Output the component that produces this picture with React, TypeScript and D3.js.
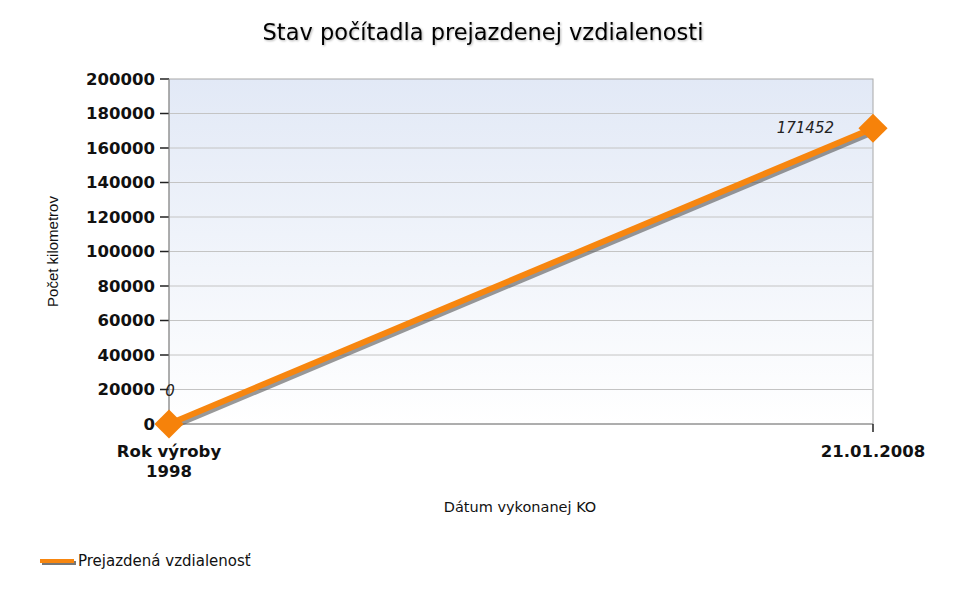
import React from 'react';
import * as d3 from 'd3';

const categories = ['Rok výroby|1998', '21.01.2008'];
const distances = [0, 171452];
const yTicks = [0, 20000, 40000, 60000, 80000, 100000, 120000, 140000, 160000, 180000, 200000];
const seriesName = 'Prejazdená vzdialenosť';

const W = 969;
const H = 596;

const App: React.FC = () => {
  const margin = { top: 79, right: 96, bottom: 172, left: 169 };
  const x = d3.scalePoint<string>().domain(categories).range([margin.left, W - margin.right]);
  const y = d3.scaleLinear().domain([0, 200000]).range([H - margin.bottom, margin.top]);

  const pts = categories.map((c, i) => ({ c, v: distances[i] }));
  const line = d3
    .line<{ c: string; v: number }>()
    .x((d) => x(d.c)!)
    .y((d) => y(d.v));
  const diamond = d3.symbol().type(d3.symbolDiamond2).size(540)();

  const x0 = margin.left;
  const x1 = W - margin.right;
  const y0 = y(0);
  const y1 = y(200000);
  const font = 'Tahoma, "DejaVu Sans", Verdana, sans-serif';

  return (
    <svg width={W} height={H} style={{ position: 'absolute', left: 0, top: 0, background: '#fff' }}>
      <defs>
        <linearGradient id="bg" x1="0" y1="0" x2="0" y2="1">
          <stop offset="0%" stopColor="#e2e9f6" />
          <stop offset="100%" stopColor="#ffffff" />
        </linearGradient>
        <filter id="ts" x="-5%" y="-20%" width="110%" height="140%">
          <feDropShadow dx="1" dy="1" stdDeviation="0.8" floodColor="#000" floodOpacity="0.3" />
        </filter>
      </defs>

      <text x={483} y={40} textAnchor="middle" fontFamily={font} fontSize={22.5} fill="#000" filter="url(#ts)">
        Stav počítadla prejazdenej vzdialenosti
      </text>

      <rect x={x0} y={y1} width={x1 - x0} height={y0 - y1} fill="url(#bg)" stroke="#a8a8a8" />

      {yTicks.map((t) => (
        <g key={t}>
          {t > 0 && t < 200000 && <line x1={x0} x2={x1} y1={y(t)} y2={y(t)} stroke="#c4c4c4" />}
          <line x1={x0 - 9} x2={x0} y1={y(t)} y2={y(t)} stroke="#222" strokeWidth={1.5} />
          <text x={x0 - 14} y={y(t)} dy="0.36em" textAnchor="end" fontFamily={font} fontWeight="bold" fontSize={16.5} fill="#111">
            {t}
          </text>
        </g>
      ))}
      <line x1={x0} x2={x0} y1={y1} y2={y0} stroke="#888" />
      <line x1={x0} x2={x1} y1={y0} y2={y0} stroke="#888" />

      {categories.map((c) => (
        <g key={c}>
          <line x1={x(c)} x2={x(c)} y1={y0} y2={y0 + 8} stroke="#222" strokeWidth={1.5} />
          {c.split('|').map((s, i) => (
            <text key={i} x={x(c)} y={y0 + 33 + i * 20} textAnchor="middle" fontFamily={font} fontWeight="bold" fontSize={16.5} fill="#111">
              {s}
            </text>
          ))}
        </g>
      ))}

      <text x={520} y={512} textAnchor="middle" fontFamily={font} fontSize={14.5} fill="#111">
        Dátum vykonanej KO
      </text>
      <text
        transform={`translate(58,${(y0 + y1) / 2}) rotate(-90)`}
        textAnchor="middle"
        fontFamily='"Liberation Sans", Arial, sans-serif'
        fontSize={15}
        fill="#111"
      >
        Počet kilometrov
      </text>

      {/* shadow */}
      <g transform="translate(2,3)" opacity={0.6}>
        <path d={line(pts)!} fill="none" stroke="#555" strokeWidth={6} />
      </g>
      <path d={line(pts)!} fill="none" stroke="#f7860f" strokeWidth={6} />
      {pts.map((d) => (
        <path key={d.c} d={diamond!} transform={`translate(${x(d.c)},${y(d.v)})`} fill="#f6820a" />
      ))}

      <text x={x(categories[0])! + 1} y={y(distances[0]) - 28} textAnchor="middle" fontFamily={font} fontStyle="italic" fontSize={15} fill="#222">
        {distances[0]}
      </text>
      <text x={x(categories[1])! - 39} y={y(distances[1]) + 5} textAnchor="end" fontFamily={font} fontStyle="italic" fontSize={15} fill="#222">
        {distances[1]}
      </text>

      <g transform="translate(40,561)">
        <line x1={2} x2={36} y1={2} y2={2} stroke="#777" strokeWidth={4} />
        <line x1={0} x2={34} y1={0} y2={0} stroke="#f7860f" strokeWidth={4} />
        <text x={38} y={5} fontFamily={font} fontSize={15} fill="#111">
          {seriesName}
        </text>
      </g>
    </svg>
  );
};

export default App;
